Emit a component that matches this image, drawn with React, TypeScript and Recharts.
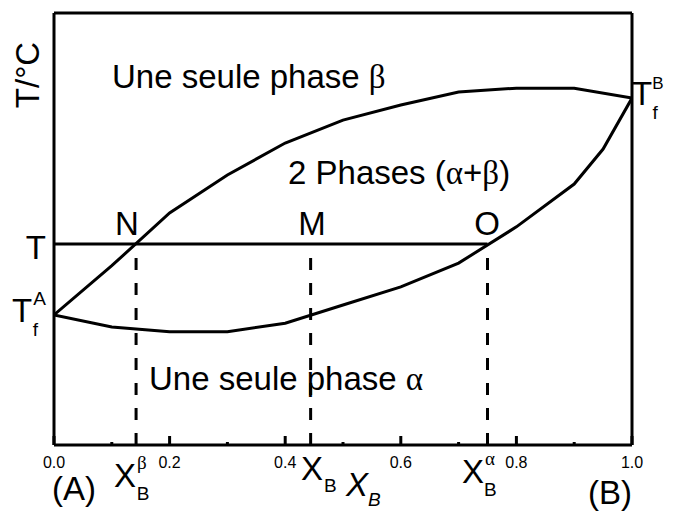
import { LineChart, Line, XAxis, YAxis, ReferenceLine } from 'recharts';

// mole fraction of B on the composition axis
const upperX = [0, 0.1, 0.2, 0.3, 0.4, 0.5, 0.6, 0.7, 0.8, 0.9, 1.0];
// beta-phase boundary (arbitrary temperature units, 0..100)
const upperT = [30.1, 41.5, 53.7, 62.5, 69.9, 75.2, 78.7, 81.7, 82.6, 82.6, 80.3];

const lowerX = [0, 0.1, 0.2, 0.3, 0.4, 0.5, 0.6, 0.7, 0.8, 0.9, 0.95, 1.0];
// alpha-phase boundary
const lowerT = [30.1, 27.3, 26.2, 26.2, 28.2, 32.4, 36.6, 42.1, 50.5, 60.4, 68.5, 80.3];

// tie line at temperature T and the compositions N, M, O
const tieT = 46.5;
const xN = 0.142;
const xM = 0.444;
const xO = 0.75;

const axisTicks = [0, 0.1, 0.2, 0.3, 0.4, 0.5, 0.6, 0.7, 0.8, 0.9, 1.0];

const upperData = upperX.map((x, i) => ({ x, t: upperT[i] }));
const lowerData = lowerX.map((x, i) => ({ x, t: lowerT[i] }));

const W = 657;
const H = 504;
const FONT = '"Liberation Sans", Arial, sans-serif';
const GREEK = '"Liberation Serif", "Times New Roman", serif';

const InwardTick = (props: any) => {
  const { x, y, payload } = props;
  const v = payload.value as number;
  const major = Math.round(v * 10) % 2 === 0;
  return (
    <g>
      <line x1={x} x2={x} y1={y} y2={y - (major ? 9 : 3)} stroke="#000" strokeWidth={3} />
      {major && (
        <text x={x} y={y + 23} textAnchor="middle" fontSize={16} fontFamily={FONT} fill="#000">
          {v.toFixed(1)}
        </text>
      )}
    </g>
  );
};

const big = { fontSize: 33, fontFamily: FONT, fill: '#000' };
const small = { fontSize: 19 };
const Gk = ({ children, ...rest }: any) => (
  <tspan fontFamily={GREEK} {...rest}>{children}</tspan>
);

const Labels = () => (
  <svg width={W} height={H} style={{ position: 'absolute', left: 0, top: 0, pointerEvents: 'none' }}>
    <text {...big} transform="translate(31,67) rotate(-90)" textAnchor="middle">T/°C</text>
    <text {...big} x={104} y={80}>Une seule phase <Gk>β</Gk></text>
    <text {...big} x={280} y={176}>2 Phases (<Gk>α</Gk>+<Gk>β</Gk>)</text>
    <text {...big} x={141} y={382}>Une seule phase <Gk>α</Gk></text>
    <text {...big} x={119} y={227} textAnchor="middle">N</text>
    <text {...big} x={304} y={227} textAnchor="middle">M</text>
    <text {...big} x={479} y={227} textAnchor="middle">O</text>
    <text {...big} x={38} y={251} textAnchor="end">T</text>
    <text {...big} x={4} y={314}>T<tspan {...small} dx={1} dy={-17}>A</tspan><tspan {...small} dx={-13} dy={31}>f</tspan></text>
    <text {...big} x={624} y={97}>T<tspan fontSize={17} dx={0} dy={-16}>B</tspan><tspan {...small} dx={-11} dy={30}>f</tspan></text>
    <text {...big} x={44} y={492}>(A)</text>
    <text {...big} x={580} y={496}>(B)</text>
    <text {...big} x={106} y={479}>X<Gk {...small} dx={1} dy={-18}>β</Gk><tspan {...small} dx={-10} dy={31}>B</tspan></text>
    <text {...big} x={293} y={472}>X<tspan {...small} dx={1} dy={12}>B</tspan></text>
    <text {...big} x={338} y={488} fontStyle="italic">X<tspan {...small} dx={0} dy={10}>B</tspan></text>
    <text {...big} x={454} y={475}>X<Gk {...small} dx={1} dy={-18}>α</Gk><tspan {...small} dx={-11} dy={31}>B</tspan></text>
  </svg>
);

export default function App() {
  return (
    <div style={{ position: 'relative', width: W, height: H, background: '#fff' }}>
      <LineChart width={W} height={H} margin={{ top: 5, right: 33, bottom: 7, left: 46 }}>
        <XAxis
          dataKey="x"
          type="number"
          domain={[0, 1]}
          ticks={axisTicks}
          tickLine={false}
          tickSize={0}
          tickMargin={0}
          height={60}
          axisLine={{ stroke: '#000', strokeWidth: 3 }}
          tick={<InwardTick />}
          interval={0}
          allowDataOverflow
        />
        <YAxis type="number" domain={[0, 100]} hide allowDataOverflow />
        <ReferenceLine x={0} stroke="#000" strokeWidth={3} />
        <ReferenceLine x={1} stroke="#000" strokeWidth={3} />
        <ReferenceLine y={100} stroke="#000" strokeWidth={3} />
        <ReferenceLine
          segment={[{ x: 0, y: tieT }, { x: xO, y: tieT }]}
          stroke="#000"
          strokeWidth={3}
        />
        {[xN, xM, xO].map((x) => (
          <ReferenceLine
            key={x}
            segment={[{ x, y: 0 }, { x, y: tieT }]}
            stroke="#000"
            strokeWidth={3}
            strokeDasharray="12 13"
          />
        ))}
        <Line
          data={upperData}
          dataKey="t"
          type="linear"
          stroke="#000"
          strokeWidth={3}
          dot={false}
          isAnimationActive={false}
        />
        <Line
          data={lowerData}
          dataKey="t"
          type="linear"
          stroke="#000"
          strokeWidth={3}
          dot={false}
          isAnimationActive={false}
        />
      </LineChart>
      <Labels />
    </div>
  );
}
